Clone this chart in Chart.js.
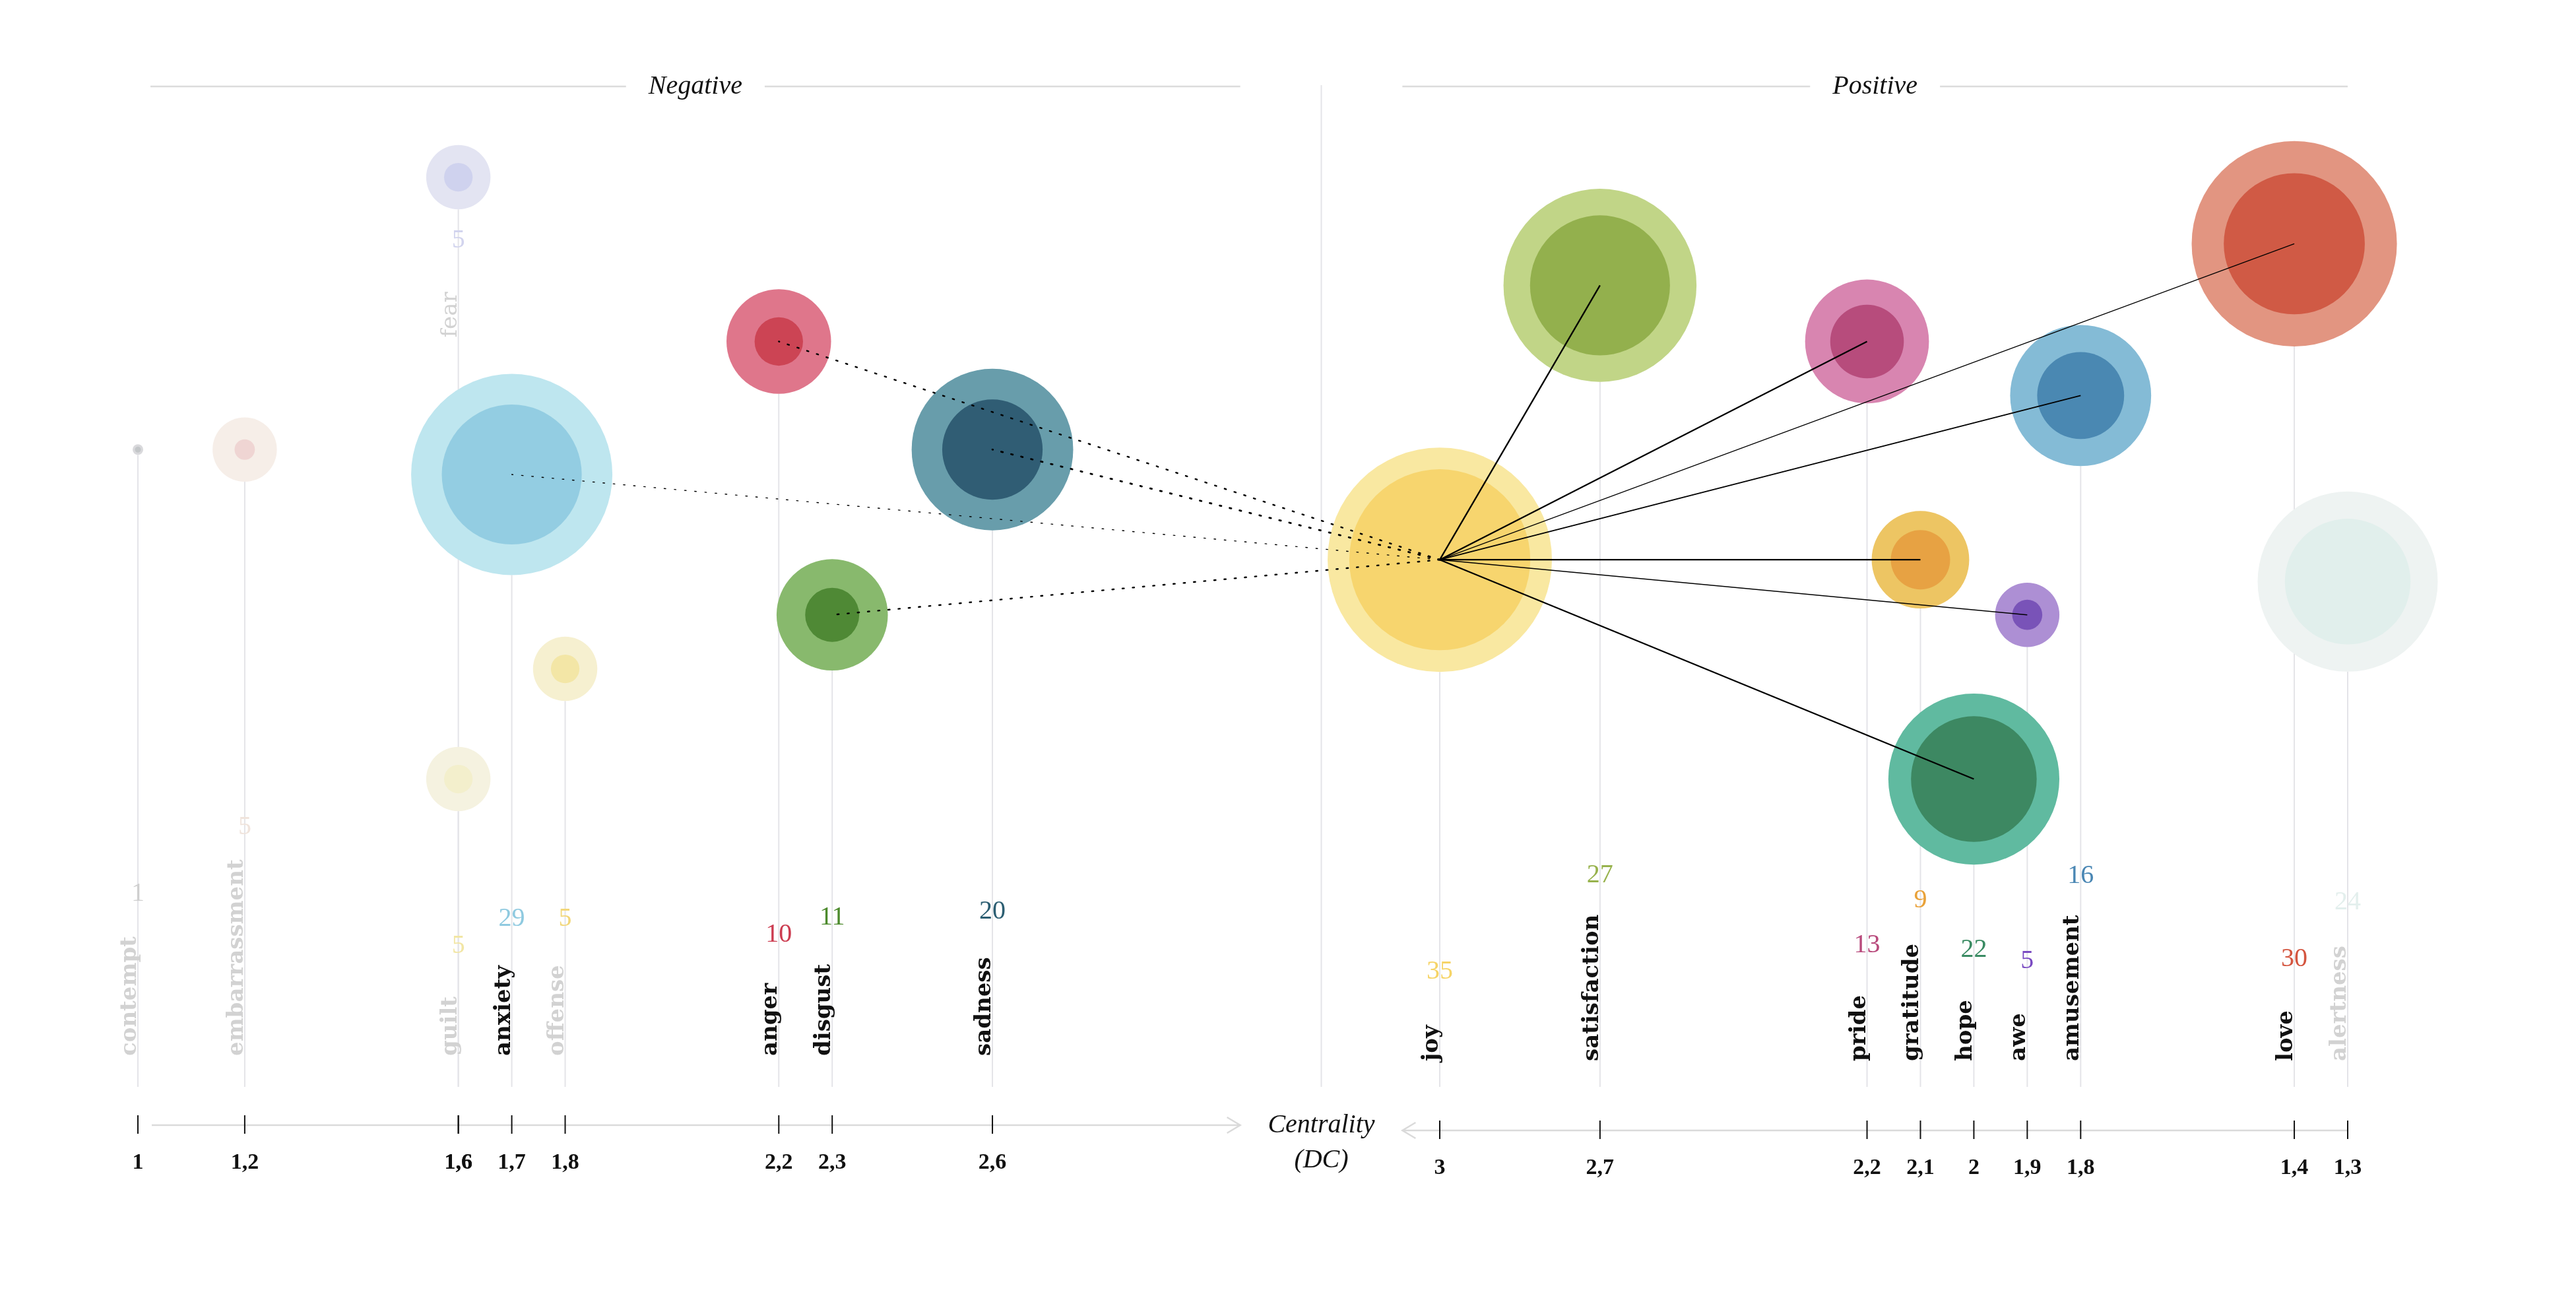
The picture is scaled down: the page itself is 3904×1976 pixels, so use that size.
<!DOCTYPE html>
<html>
<head>
<meta charset="utf-8">
<title>Emotions – centrality</title>
<script src="https://cdn.jsdelivr.net/npm/chart.js@4.4.1/dist/chart.umd.min.js"></script>
<style>
  html, body { margin: 0; padding: 0; background: #fff; }
  #wrap { width: 3904px; height: 1976px; position: relative; }
</style>
</head>
<body>
<div id="wrap"><canvas id="emotion-chart"></canvas></div>
<script>
// ====== Data ======
// Negative emotions
const negNames  = ['contempt', 'embarrassment', 'fear', 'guilt', 'anxiety', 'offense', 'anger', 'disgust', 'sadness'];
const negDC     = [1, 1.2, 1.6, 1.6, 1.7, 1.8, 2.2, 2.3, 2.6];
const negCount  = [1, 5, 5, 5, 29, 5, 10, 11, 20];
const negCore   = [0.8, 1.5, 2, 2, 15.8, 2, 3.5, 4, 9.4];
const negLevel  = [65, 65, 91.2, 33.3, 62.6, 43.9, 75.4, 49.1, 65];
const negActive = [false, false, false, false, true, false, true, true, true];
const negLink   = [0, 0, 0, 0, 1.4, 0, 2.4, 2.4, 2.8];   // link strength to joy

// Positive emotions
const posNames  = ['joy', 'satisfaction', 'pride', 'gratitude', 'hope', 'awe', 'amusement', 'love', 'alertness'];
const posDC     = [3, 2.7, 2.2, 2.1, 2, 1.9, 1.8, 1.4, 1.3];
const posCount  = [35, 27, 13, 9, 22, 5, 16, 30, 24];
const posCore   = [24.2, 15.8, 6, 4.5, 13.3, 2.1, 7.6, 16, 13.3];
const posLevel  = [54.4, 80.8, 75.4, 54.4, 33.3, 49.1, 70.2, 84.8, 52.3];
const posActive = [true, true, true, true, true, true, true, true, false];
const posLink   = [0, 2.3, 2.3, 2.2, 2.3, 1.5, 1.9, 1.4, 0];

// ====== Styles ======
// [outer, inner, number]
const palette = {
  contempt:      ['#d9d9dc', '#c3c6c8', '#cfcfcf'],
  embarrassment: ['#f6eee8', '#efd5d3', '#f0e4dc'],
  fear:          ['#e3e4f2', '#cfd2ee', '#d2d4ee'],
  guilt:         ['#f5f2e0', '#f3efcc', '#f2e6a4'],
  anxiety:       ['#bee6ef', '#93cde2', '#8fcae0'],
  offense:       ['#f6f0d0', '#f3e6a6', '#f2d77a'],
  anger:         ['#df768b', '#cc4454', '#cc3c50'],
  disgust:       ['#88b96d', '#4f8935', '#4c8a2c'],
  sadness:       ['#689dab', '#305d74', '#2c5e72'],
  joy:           ['#f9e8a1', '#f7d56e', '#f6d467'],
  satisfaction:  ['#c1d587', '#93b04d', '#97b24c'],
  pride:         ['#d885b0', '#b74c7c', '#b84a7c'],
  gratitude:     ['#edc563', '#e7a243', '#e9a23a'],
  hope:          ['#60baa0', '#3d8862', '#3a8b63'],
  awe:           ['#ad8fd4', '#7953b8', '#7a4bc2'],
  amusement:     ['#84bbd6', '#4a88b2', '#4a87b4'],
  love:          ['#e29581', '#d05a45', '#d4553f'],
  alertness:     ['#eef3f2', '#e1efec', '#e3efed']
};

const SERIF = '"Liberation Serif", "DejaVu Serif", serif';
const LABEL_FONT = 'bold 34px "DejaVu Serif", serif';
const GRID = '#e4e4e8';
const PAD = { left: 209, right: 346, top: 130, bottom: 271 };
const PX_PER_UNIT = 809.4;
const SPAN = (3904 - PAD.left - PAD.right) / PX_PER_UNIT;

// sqrt size scale: mentions -> radius (px)
const maxCount = Math.max(...negCount, ...posCount);
function radiusFor(n) {
  return 8 + (Math.sqrt(n) - 1) * (170 - 8) / (Math.sqrt(maxCount) - 1);
}

function bubbles(dc, level, values) {
  return dc.map((x, i) => ({ x: x, y: level[i], r: radiusFor(values[i]) }));
}

function fmt(v) {
  return String(v).replace('.', ',');
}

// ====== Decorations: axes, stems, labels, links ======
const decorPlugin = {
  id: 'decor',
  beforeDatasetsDraw(chart) {
    const ctx = chart.ctx;
    const xN = chart.scales.xNeg, xP = chart.scales.xPos, y = chart.scales.y;
    const axisN = y.bottom, axisP = y.bottom + 8;
    const stemEnd = y.bottom - 58;
    const headY = 131;

    ctx.save();

    // headers
    function header(text, from, to) {
      ctx.font = 'italic 40px ' + SERIF;
      const tw = ctx.measureText(text).width;
      const mid = (from + to) / 2;
      ctx.strokeStyle = '#dcdcdc';
      ctx.lineWidth = 2.5;
      ctx.beginPath();
      ctx.moveTo(from, headY); ctx.lineTo(mid - tw / 2 - 34, headY);
      ctx.moveTo(mid + tw / 2 + 34, headY); ctx.lineTo(to, headY);
      ctx.stroke();
      ctx.fillStyle = '#111';
      ctx.textAlign = 'center';
      ctx.textBaseline = 'middle';
      ctx.fillText(text, mid, headY);
    }
    const negEnd = xN.getPixelForValue(3.064);
    const posStart = xP.getPixelForValue(3.07);
    header('Negative', xN.getPixelForValue(1.0235), negEnd);
    header('Positive', posStart, xP.getPixelForValue(1.3));

    // separator
    const sepX = (negEnd + posStart) / 2;
    ctx.strokeStyle = GRID;
    ctx.lineWidth = 2;
    ctx.beginPath();
    ctx.moveTo(sepX, headY - 2);
    ctx.lineTo(sepX, stemEnd);
    ctx.stroke();

    // axis title
    ctx.fillStyle = '#111';
    ctx.font = 'italic 40px ' + SERIF;
    ctx.textAlign = 'center';
    ctx.textBaseline = 'middle';
    ctx.fillText('Centrality', sepX, axisN);
    ctx.fillText('(DC)', sepX, axisN + 53);

    // axis lines with arrows
    ctx.strokeStyle = '#dadada';
    ctx.lineWidth = 2.5;
    ctx.beginPath();
    ctx.moveTo(xN.getPixelForValue(1.026), axisN);
    ctx.lineTo(negEnd, axisN);
    ctx.moveTo(negEnd - 20, axisN - 12); ctx.lineTo(negEnd, axisN); ctx.lineTo(negEnd - 20, axisN + 12);
    ctx.moveTo(posStart, axisP);
    ctx.lineTo(xP.getPixelForValue(1.3), axisP);
    ctx.moveTo(posStart + 20, axisP - 12); ctx.lineTo(posStart, axisP); ctx.lineTo(posStart + 20, axisP + 12);
    ctx.stroke();

    function panel(scale, axisY, names, dc, count, level, active) {
      names.forEach((name, i) => {
        const x = scale.getPixelForValue(dc[i]);
        const cy = y.getPixelForValue(level[i]);
        const r = radiusFor(count[i]);

        // stem
        ctx.strokeStyle = GRID;
        ctx.lineWidth = 2;
        ctx.beginPath();
        ctx.moveTo(x, cy + r);
        ctx.lineTo(x, stemEnd);
        ctx.stroke();

        // tick + tick label
        ctx.strokeStyle = '#111';
        ctx.lineWidth = 2;
        ctx.beginPath();
        ctx.moveTo(x, axisY - 15);
        ctx.lineTo(x, axisY + 13);
        ctx.stroke();
        ctx.fillStyle = '#111';
        ctx.font = 'bold 34px ' + SERIF;
        ctx.textAlign = 'center';
        ctx.textBaseline = 'middle';
        ctx.fillText(fmt(dc[i]), x, axisY + 57);

        // label: under the bubble when another emotion sits lower on the same stem
        const sharesStem = dc.some((d, j) => j !== i && d === dc[i] && level[j] < level[i]);
        ctx.font = sharesStem ? '34px "DejaVu Serif", serif' : LABEL_FONT;
        const tw = ctx.measureText(name).width;
        let labelBottom, numY;
        if (sharesStem) {
          numY = cy + r + 47;
          labelBottom = numY + 78 + tw;
        } else {
          labelBottom = axisY - 105;
          numY = labelBottom - 88 - 0.87 * tw;
        }
        ctx.save();
        ctx.translate(x - 3, labelBottom);
        ctx.rotate(-Math.PI / 2);
        ctx.fillStyle = active[i] ? '#111' : '#d2d2d2';
        ctx.textAlign = 'left';
        ctx.textBaseline = 'alphabetic';
        ctx.fillText(name, 0, 0);
        ctx.restore();

        // mention count
        ctx.fillStyle = palette[name][2];
        ctx.font = '40px ' + SERIF;
        ctx.textAlign = 'center';
        ctx.textBaseline = 'middle';
        ctx.fillText(String(count[i]), x, numY);
      });
    }
    panel(xN, axisN, negNames, negDC, negCount, negLevel, negActive);
    panel(xP, axisP, posNames, posDC, posCount, posLevel, posActive);

    ctx.restore();
  },
  afterDatasetsDraw(chart) {
    const ctx = chart.ctx;
    const xN = chart.scales.xNeg, xP = chart.scales.xPos, y = chart.scales.y;
    const jx = xP.getPixelForValue(posDC[0]);
    const jy = y.getPixelForValue(posLevel[0]);

    ctx.save();
    ctx.strokeStyle = '#000';

    // solid links to positive emotions
    posNames.forEach((name, i) => {
      if (!posLink[i]) return;
      ctx.lineWidth = posLink[i];
      ctx.setLineDash([]);
      ctx.beginPath();
      ctx.moveTo(jx, jy);
      ctx.lineTo(xP.getPixelForValue(posDC[i]), y.getPixelForValue(posLevel[i]));
      ctx.stroke();
    });

    // dotted links to negative emotions
    ctx.lineCap = 'round';
    negNames.forEach((name, i) => {
      if (!negLink[i]) return;
      ctx.lineWidth = negLink[i];
      ctx.setLineDash([2.5, 13]);
      ctx.beginPath();
      ctx.moveTo(jx, jy);
      ctx.lineTo(xN.getPixelForValue(negDC[i]), y.getPixelForValue(negLevel[i]));
      ctx.stroke();
    });
    ctx.restore();
  }
};

// ====== Chart ======
function bubbleSet(axis, names, dc, level, values, layer, order) {
  return {
    xAxisID: axis,
    data: bubbles(dc, level, values),
    backgroundColor: names.map(n => palette[n][layer]),
    borderWidth: 0,
    hoverBorderWidth: 0,
    clip: false,
    order: order
  };
}

const ctx = document.getElementById('emotion-chart').getContext('2d');
new Chart(ctx, {
  type: 'bubble',
  data: {
    datasets: [
      bubbleSet('xNeg', negNames, negDC, negLevel, negCore, 1, 0),
      bubbleSet('xPos', posNames, posDC, posLevel, posCore, 1, 0),
      bubbleSet('xNeg', negNames, negDC, negLevel, negCount, 0, 1),
      bubbleSet('xPos', posNames, posDC, posLevel, posCount, 0, 1)
    ]
  },
  options: {
    responsive: true,
    maintainAspectRatio: false,
    devicePixelRatio: 1,
    animation: false,
    events: [],
    layout: { padding: PAD, autoPadding: false },
    scales: {
      xNeg: { type: 'linear', display: false, min: 1, max: 1 + SPAN },
      xPos: { type: 'linear', display: false, reverse: true, min: 1.3, max: 1.3 + SPAN },
      y:    { type: 'linear', display: false, min: 0, max: 100 }
    },
    plugins: {
      legend: { display: false },
      tooltip: { enabled: false }
    }
  },
  plugins: [decorPlugin]
});
</script>
</body>
</html>
